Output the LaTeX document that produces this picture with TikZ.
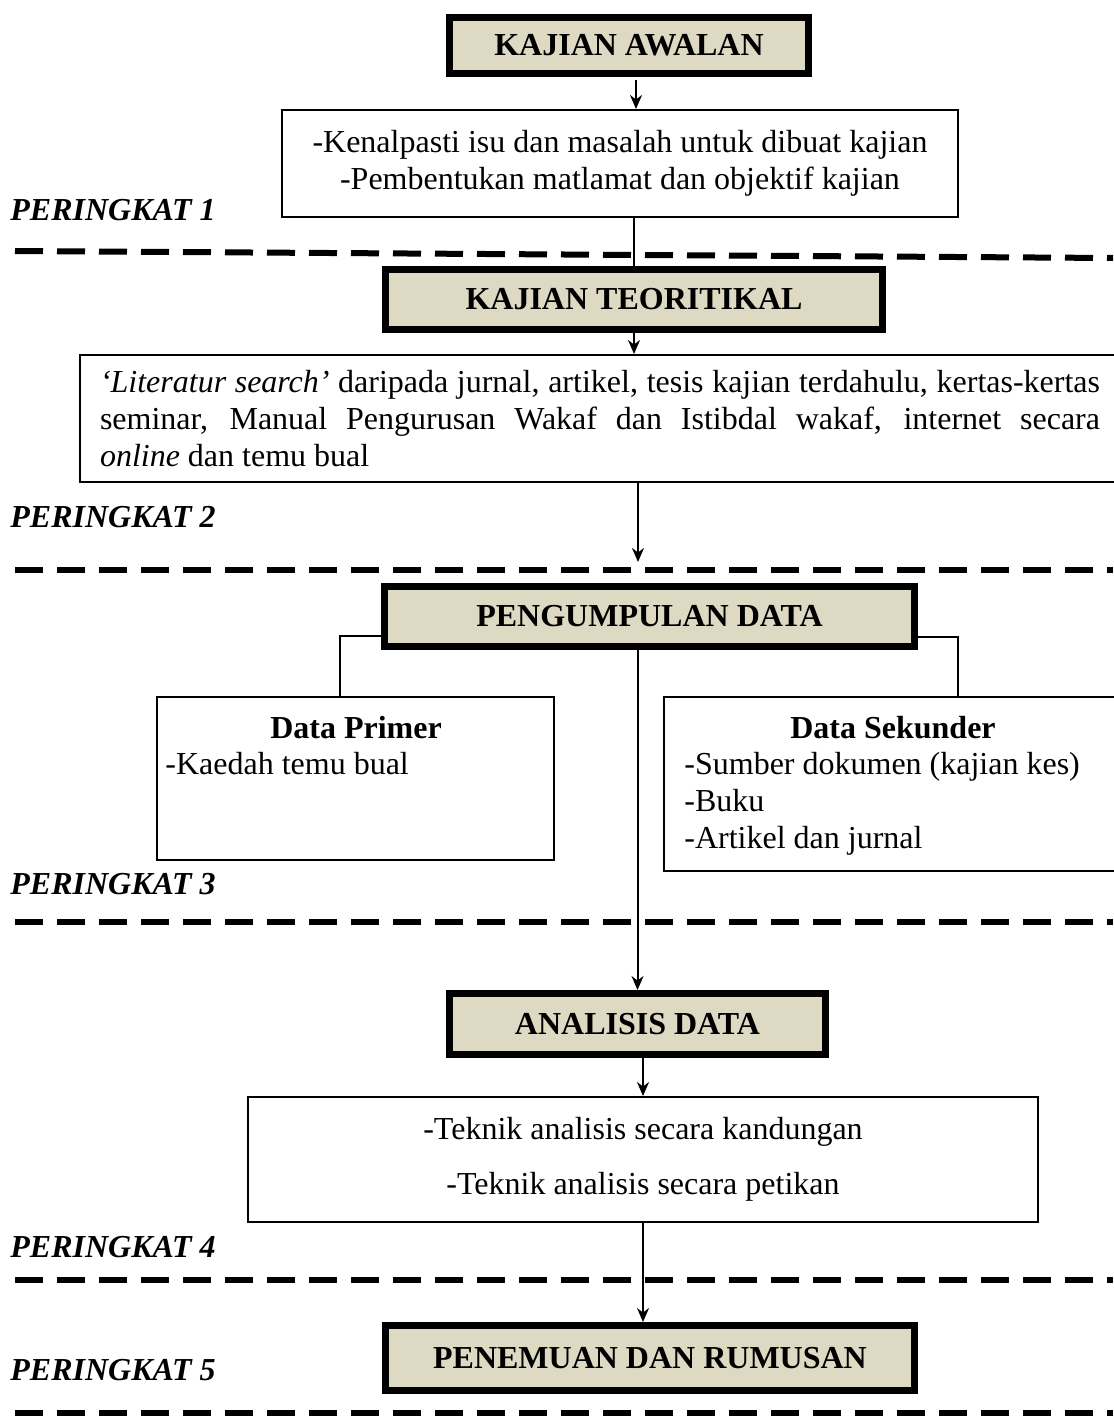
\documentclass[tikz,border=0pt]{standalone}
\usepackage{fontspec}
\setmainfont{Liberation Serif}
\usetikzlibrary{arrows.meta}
\definecolor{latar}{RGB}{221,217,195}

\begin{document}
\begin{tikzpicture}[x=0.5pt,y=-0.5pt,
    font=\fontsize{16}{18.5}\selectfont,
    tajuk/.style={draw,line width=3.5pt,fill=latar,inner sep=0pt,
        font=\fontsize{16}{18.5}\selectfont\bfseries},
    kotak/.style={draw,line width=1pt,inner sep=0pt},
    peringkat/.style={anchor=west,inner sep=0pt,
        font=\fontsize{16}{18.5}\selectfont\bfseries\itshape},
    garis/.style={line width=3pt,dash pattern=on 14pt off 7pt},
    panah/.style={line width=1pt,-{Stealth[length=7pt,width=6pt]}}
    ]

            \useasboundingbox (0,0) rectangle (1113,1417);

            \draw[garis] (15,251) -- (1113,258);
            \draw[garis] (15,570) -- (1113,570);
            \draw[garis] (15,922) -- (1113,922);
            \draw[garis] (15,1280) -- (1113,1280);
            \draw[garis] (15,1413) -- (1113,1413);

            \node[peringkat] (p1) at (10,210) {PERINGKAT 1};
            \node[peringkat] (p2) at (10,517) {PERINGKAT 2};
            \node[peringkat] (p3) at (10,884) {PERINGKAT 3};
            \node[peringkat] (p4) at (10,1247) {PERINGKAT 4};
            \node[peringkat] (p5) at (10,1370) {PERINGKAT 5};

            \node[tajuk,minimum width=179.5pt,minimum height=28pt] (kaw) at (629,45.5) {KAJIAN AWALAN};
            \node[kotak,minimum width=338pt,minimum height=53.5pt,align=center] (isu) at (620,163.5)
                {-Kenalpasti isu dan masalah untuk dibuat kajian\\-Pembentukan matlamat dan objektif kajian};
            \coordinate (turun) at (636,80);

            \node[tajuk,minimum width=248.5pt,minimum height=30pt] (kteo) at (634,299.5) {KAJIAN TEORITIKAL};
            \node[kotak,minimum width=520pt,minimum height=63.5pt,align=left] (lit) at (600,418.5)
                {\makebox[500pt][s]{\textit{‘Literatur search’} daripada jurnal, artikel, tesis kajian terdahulu, kertas-kertas}\\
                 \makebox[500pt][s]{seminar, Manual Pengurusan Wakaf dan Istibdal wakaf, internet secara}\\
                 \textit{online} dan temu bual};
            \coordinate (hujung) at (638,562);

            \node[tajuk,minimum width=265pt,minimum height=30pt] (pdata) at (649.5,616.5) {PENGUMPULAN DATA};

            \node[kotak,minimum width=198.5pt,minimum height=81.5pt] (dp) at (355.5,778.5) {};
            \node[inner sep=0pt] (dpt) at (356,728) {\textbf{Data Primer}};
            \node[anchor=west,inner sep=0pt] (dpi) at (165,764) {-Kaedah temu bual};

            \node[kotak,minimum width=233pt,minimum height=87pt] (ds) at (897,784) {};
            \node[inner sep=0pt] (dst) at (893,728) {\textbf{Data Sekunder}};
            \node[anchor=west,inner sep=0pt,align=left] (dsi) at (684,804)
                {-Sumber dokumen (kajian kes)\\-Buku\\-Artikel dan jurnal};

            \node[tajuk,minimum width=188pt,minimum height=30.5pt] (anal) at (637.5,1024) {ANALISIS DATA};
            \node[kotak,minimum width=395pt,minimum height=62.5pt,align=center] (teknik) at (643,1159.5)
                {-Teknik analisis secara kandungan\\[9pt]-Teknik analisis secara petikan};

            \node[tajuk,minimum width=264.5pt,minimum height=32.5pt] (pen) at (650,1358) {PENEMUAN DAN RUMUSAN};

            \draw[panah] (turun) -- (turun |- isu.north);
            \draw[line width=1pt] (kteo.north |- isu.south) -- (kteo.north);
            \draw[panah] (kteo.south) -- (kteo.south |- lit.north);
            \draw[panah] (lit.south -| hujung) -- (hujung);
            \draw[line width=1pt] ([yshift=-9.75pt]pdata.west) -| ([xshift=-8pt]dp.north);
            \draw[line width=1pt] ([yshift=-10pt]pdata.east) -| ([xshift=30.5pt]ds.north);
            \draw[panah] (anal.north |- pdata.south) -- (anal.north);
            \draw[panah] (teknik.north |- anal.south) -- (teknik.north);
            \draw[panah] (teknik.south) -- (teknik.south |- pen.north);

            \end{tikzpicture}
\end{document}
